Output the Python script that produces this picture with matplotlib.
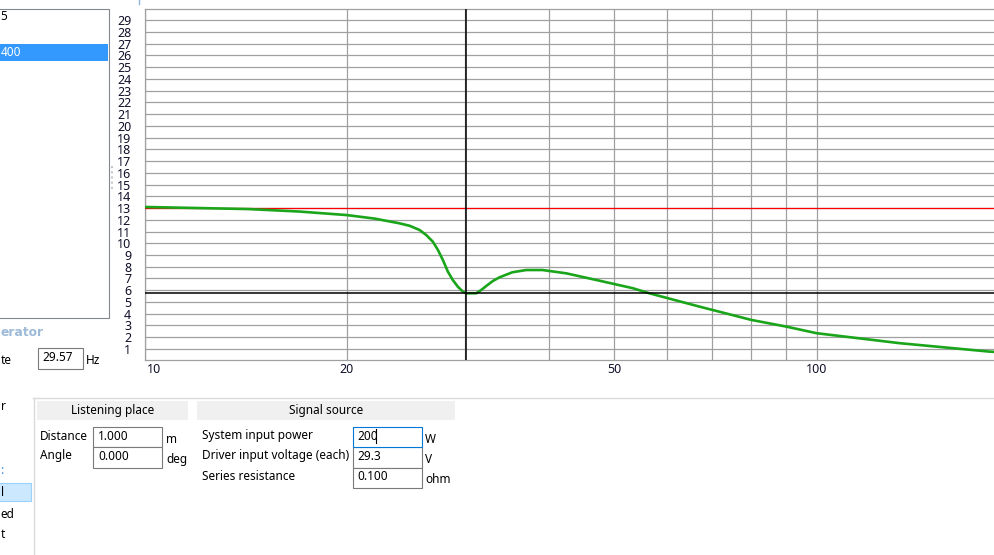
import matplotlib
matplotlib.use('Agg')
import matplotlib.pyplot as plt
import matplotlib.transforms as mtransforms
from matplotlib.patches import Rectangle
import numpy as np

plt.rcParams['font.family'] = ['Noto Sans', 'DejaVu Sans']

# ---- chart data ----
freq = [10.0, 12.0, 14.3, 17.0, 20.0, 22.0, 23.95, 24.8, 25.66, 26.26, 26.86, 27.33,
        27.8, 28.28, 28.76, 29.26, 29.77, 30.1, 31.17, 31.7, 32.25, 33.0, 33.75,
        35.28, 36.98, 39.11, 42.42, 47.55, 53.3, 56.4, 67.0, 80.0, 90.2, 100.0,
        133.0, 181.0, 184.0]
spl = [13.09, 13.0, 12.91, 12.7, 12.40, 12.1, 11.70, 11.49, 11.13, 10.70, 10.13, 9.43,
       8.57, 7.58, 6.87, 6.30, 5.88, 5.74, 5.74, 6.02, 6.36, 6.79, 7.10,
       7.53, 7.72, 7.72, 7.44, 6.81, 6.17, 5.74, 4.60, 3.47, 2.90, 2.34,
       1.49, 0.77, 0.75]
ref_level = 12.97          # red line
cursor_freq = 30.1         # black cross-hair
cursor_level = 5.74
y_ticks = list(range(1, 30))
x_ticks = [10, 20, 50, 100]
x_grid = [10, 20, 30, 40, 50, 60, 70, 80, 90, 100]

W, H = 994, 555
fig = plt.figure(figsize=(W / 100, H / 100), dpi=100)

# ---- UI overlay in pixel coords ----
ui = fig.add_axes([0, 0, 1, 1], zorder=0)
ui.set_xlim(0, W)
ui.set_ylim(H, 0)
ui.axis('off')

fs = 8.5
def txt(x, y, s, **kw):
    kw.setdefault('fontsize', fs)
    kw.setdefault('va', 'center')
    kw.setdefault('color', '#000000')
    ui.text(x, y, s, **kw)

def box(x0, y0, x1, y1, ec='#7a7a7a', fc='white', lw=0.8):
    ui.add_patch(Rectangle((x0, y0), x1 - x0, y1 - y0, ec=ec, fc=fc, lw=lw))

# left list box
box(-5, 8.5, 108.5, 318, ec='#828790')
ui.add_patch(Rectangle((0, 44), 107.5, 16.5, fc='#3399ff', ec='none'))
txt(0.5, 17, '5')
txt(0.5, 52, '400', color='white')

# splitter grip
ui.plot([112, 112], [166, 192], color='#c8c8c8', lw=1.5, ls=(0, (1, 1.5)))
ui.plot([139, 139], [0, 4], color='#8fb3d9', lw=1)

txt(0.5, 332, 'erator', color='#9dbad8', fontweight='bold', fontsize=8.8,
    family=['DejaVu Sans'])
txt(0.5, 361, 'te')
box(37.5, 347.5, 83, 369)
txt(42, 357.5, '29.57')
txt(86, 361, 'Hz')

# bottom panel
ui.plot([33, W], [397.5, 397.5], color='#dadada', lw=1)
ui.plot([33.5, 33.5], [397.5, H], color='#dadada', lw=1)
txt(0.5, 407, 'r')
txt(0.5, 471, ':', color='#3a8ee6', fontweight='bold')
ui.add_patch(Rectangle((-2, 482.5), 32.5, 18.5, fc='#cce8ff', ec='#99d1ff', lw=0.8))
txt(0.5, 492, 'l')
txt(0.5, 514, 'ed')
txt(0.5, 535, 't')

ui.add_patch(Rectangle((37, 401), 151, 19, fc='#f0f0f0', ec='none'))
ui.add_patch(Rectangle((197, 401), 258, 19, fc='#f0f0f0', ec='none'))
txt(112.5, 410.5, 'Listening place', ha='center')
txt(326, 410.5, 'Signal source', ha='center')

txt(40, 436, 'Distance')
txt(40, 456, 'Angle')
box(92.5, 426.5, 162, 447)
box(92.5, 447, 162, 468)
txt(98, 436, '1.000')
txt(98, 456.5, '0.000')
txt(166, 439.5, 'm')
txt(166, 460, 'deg')

txt(202, 436, 'System input power')
txt(202, 456, 'Driver input voltage (each)')
txt(202, 476, 'Series resistance')
box(352.5, 447, 422, 468)
box(352.5, 468, 422, 488)
box(352.5, 426.5, 422, 447, ec='#0078d7')
txt(357, 436, '200')
ui.plot([375.5, 375.5], [429, 443], color='black', lw=0.8)
txt(357, 456.5, '29.3')
txt(357, 477, '0.100')
txt(425, 439.5, 'W')
txt(425, 459.5, 'V')
txt(425, 479.5, 'ohm')

# ---- chart ----
left, right = 144.5, W + 2
top, bottom = 9, 359.5
ax = fig.add_axes([left / W, 1 - bottom / H, (right - left) / W, (bottom - top) / H], zorder=2)
ax.set_xscale('log')
ax.set_xlim(10, 10 ** (1 + (right - left) / 672.0))
ax.set_ylim(0.1, 29.95)
ax.patch.set_alpha(0)

for v in y_ticks:
    ax.axhline(v, color='#a0a0a0', lw=0.9, zorder=1)
for f in x_grid:
    ax.axvline(f, color='#a0a0a0', lw=0.9, zorder=1)

ax.axhline(ref_level, color='#ff0000', lw=0.9, zorder=3)
ax.plot(freq, spl, color='#1aa51a', lw=1.9, zorder=4)
ax.axvline(cursor_freq, color='black', lw=1.1, zorder=5)
ax.axhline(cursor_level, color='black', lw=1.1, zorder=5)

for s in ['top', 'left', 'bottom']:
    ax.spines[s].set_color('#a0a0a0')
    ax.spines[s].set_linewidth(0.9)
ax.spines['right'].set_visible(False)

ax.set_yticks(y_ticks)
ax.set_yticklabels([str(v) for v in y_ticks])
ax.set_xticks(x_ticks)
ax.set_xticklabels([str(v) for v in x_ticks])
ax.xaxis.set_minor_locator(matplotlib.ticker.NullLocator())
ax.tick_params(axis='y', length=0, pad=9.5, labelsize=9, labelcolor='#10102a')
ax.tick_params(axis='x', length=0, pad=2.5, labelsize=9, labelcolor='#10102a')
# first x label sits right of its gridline
lbl = ax.get_xticklabels()[0]
lbl.set_transform(lbl.get_transform() + mtransforms.ScaledTranslation(10 / 100, 0, fig.dpi_scale_trans))

fig.savefig('out.png', dpi=100)
